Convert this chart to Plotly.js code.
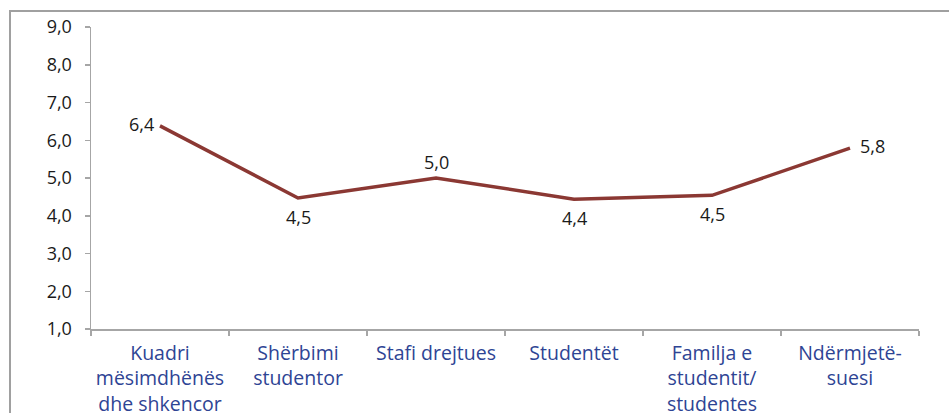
<!DOCTYPE html>
<html>
<head>
<meta charset="utf-8">
<script src="https://cdn.plot.ly/plotly-3.0.1.min.js"></script>
<style>html,body{margin:0;padding:0;background:#fff;}#chart{width:949px;height:413px;}</style>
</head>
<body>
<div id="chart"></div>
<script>
const categories = ["Kuadri<br>mësimdhënës<br>dhe shkencor", "Shërbimi<br>studentor", "Stafi drejtues", "Studentët", "Familja e<br>studentit/<br>studentes", "Ndërmjetë-<br>suesi"];
const values = [6.38, 4.47, 5.0, 4.44, 4.54, 5.79];
const labelSides = ["left", "below", "above", "below", "below", "right"];
const yTicks = [1, 2, 3, 4, 5, 6, 7, 8, 9];

const FONT = 'Open Sans, sans-serif';
const fmt = v => v.toFixed(1).replace('.', ',');

const trace = {
  x: categories,
  y: values,
  type: 'scatter',
  mode: 'lines',
  line: {color: '#8B3833', width: 3.5},
  hoverinfo: 'skip'
};

const sideCfg = {
  left:  {xanchor: 'right', yanchor: 'middle', xshift: -4, yshift: 2},
  right: {xanchor: 'left', yanchor: 'middle', xshift: 8, yshift: 2},
  above: {xanchor: 'center', yanchor: 'bottom', xshift: 0, yshift: 2},
  below: {xanchor: 'center', yanchor: 'top', xshift: 0, yshift: -5}
};

const annotations = values.map((v, i) => Object.assign({
  x: categories[i], y: v, xref: 'x', yref: 'y',
  text: fmt(v), showarrow: false,
  font: {family: FONT, size: 18, color: '#1a1a1a'}
}, sideCfg[labelSides[i]]));

const layout = {
  width: 949, height: 413,
  margin: {l: 91, r: 30, t: 27, b: 84},
  paper_bgcolor: '#fff', plot_bgcolor: '#fff',
  showlegend: false,
  font: {family: FONT, size: 16, color: '#1a1a1a'},
  xaxis: {
    type: 'category',
    showgrid: false, zeroline: false,
    showline: true, linecolor: '#A6A6A6', linewidth: 1.5,
    ticks: 'outside', tickson: 'boundaries', ticklen: 5, tickcolor: '#A6A6A6', tickwidth: 1.5,
    tickfont: {family: FONT, size: 19.5, color: '#2E4494'},
    ticklabelstandoff: 6,
    tickangle: 0,
    range: [-0.5, 5.5]
  },
  yaxis: {
    range: [1, 9],
    tickvals: yTicks,
    ticktext: yTicks.map(fmt),
    showgrid: false, zeroline: false,
    showline: true, linecolor: '#A6A6A6', linewidth: 1.5,
    ticks: 'outside', ticklen: 5, tickcolor: '#A6A6A6', tickwidth: 1.5,
    ticklabelstandoff: 9,
    tickfont: {family: FONT, size: 18, color: '#1a1a1a'}
  },
  annotations: annotations,
  shapes: [{
    type: 'rect', xref: 'paper', yref: 'paper',
    x0: (10 - 91) / 828, x1: (990 - 91) / 828,
    y0: (329 - 440) / 302, y1: (329 - 11) / 302,
    line: {color: '#A0A0A0', width: 2},
    fillcolor: 'rgba(0,0,0,0)', layer: 'below'
  }]
};

Plotly.newPlot('chart', [trace], layout, {displayModeBar: false, staticPlot: true});
</script>
</body>
</html>
